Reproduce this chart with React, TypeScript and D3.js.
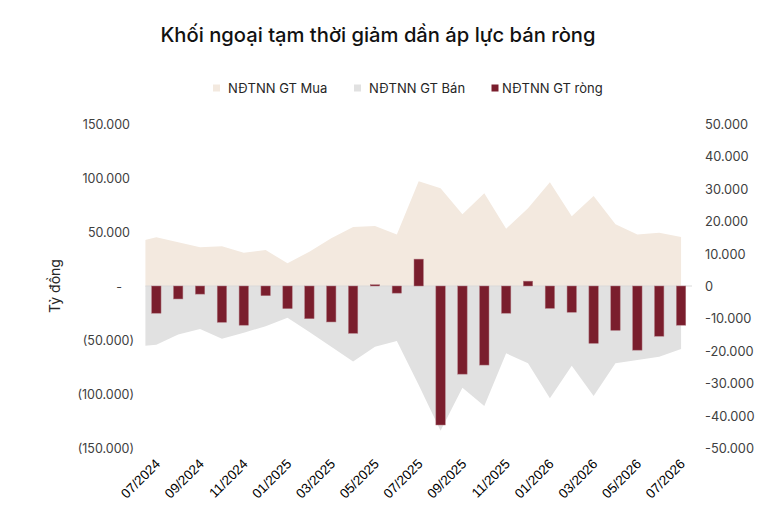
import React from 'react';
import * as d3 from 'd3';

const months = [
  '07/2024','08/2024','09/2024','10/2024','11/2024','12/2024',
  '01/2025','02/2025','03/2025','04/2025','05/2025','06/2025',
  '07/2025','08/2025','09/2025','10/2025','11/2025','12/2025',
  '01/2026','02/2026','03/2026','04/2026','05/2026','06/2026','07/2026',
];
// value for the month before the first category (drawn clipped at the plot edge)
const muaPrev = 40300;
const banPrev = -56300;
const mua = [45100,40400,35800,36700,30900,33300,21000,31800,44100,54600,55600,47800,96900,90400,66400,85800,53100,71900,96000,64500,83300,57100,47800,49400,45400];
const ban = [-54300,-44800,-39800,-48800,-43200,-37300,-29300,-42600,-56200,-69800,-56200,-50900,-91700,-134000,-94100,-111100,-62300,-71600,-104000,-73800,-101900,-71600,-68500,-65400,-58300];
const rong = [-8400,-4000,-2500,-11200,-12100,-3000,-7000,-10100,-11100,-14600,400,-2200,8300,-42900,-27200,-24400,-8400,1500,-6900,-8100,-17700,-13700,-19800,-15500,-12100];
const leftTicks = [150000,100000,50000,0,-50000,-100000,-150000];
const rightTicks = [50000,40000,30000,20000,10000,0,-10000,-20000,-30000,-40000,-50000];
const seriesNames = ['NĐTNN GT Mua','NĐTNN GT Bán','NĐTNN GT ròng'];
const title = 'Khối ngoại tạm thời giảm dần áp lực bán ròng';
const yTitle = 'Tỷ đồng';

const C_MUA = '#F3E9DF';
const C_BAN = '#E1E1E1';
const C_RONG = '#7A1E2D';
const FONT = 'Inter, "Noto Sans", sans-serif';
const FONT_X = '"Liberation Sans", Arial, sans-serif';

const vn = d3.formatLocale({ decimal: ',', thousands: '.', grouping: [3], currency: ['', ''] });
const fmt = vn.format(',.0f');
const fmtLeft = (v: number) => (v === 0 ? '-' : v < 0 ? `(${fmt(-v)})` : fmt(v));
const fmtRight = (v: number) => (v === 0 ? '0' : v < 0 ? `-${fmt(-v)}` : fmt(v));

export default function App() {
  const W = 775, H = 521;
  const plotL = 145.4, plotR = 692, plotT = 124, plotB = 448;

  const x = d3.scaleBand<number>().domain(d3.range(months.length)).range([plotL, plotR]).paddingInner(0.57).paddingOuter(0.285);
  const step = (plotR - plotL) / months.length;
  const cx = (i: number) => plotL + (i + 0.5) * step;
  const yL = d3.scaleLinear().domain([-150000, 150000]).range([plotB, plotT]);
  const yR = d3.scaleLinear().domain([-50000, 50000]).range([plotB, plotT]);

  const muaPts = [muaPrev, ...mua].map((v, k) => ({ i: k - 1, v }));
  const banPts = [banPrev, ...ban].map((v, k) => ({ i: k - 1, v }));
  const areaGen = d3.area<{ i: number; v: number }>().x((d) => cx(d.i)).y0(yL(0)).y1((d) => yL(d.v));

  const legendItems = [
    { sx: 213, tx: 228, color: C_MUA, name: seriesNames[0] },
    { sx: 354, tx: 369, color: C_BAN, name: seriesNames[1] },
    { sx: 491.5, tx: 502, color: C_RONG, name: seriesNames[2] },
  ];

  return (
    <svg width={W} height={H} style={{ position: 'absolute', left: 0, top: 0, background: '#fff' }} fontFamily={FONT}>
      <defs>
        <clipPath id="plotClip">
          <rect x={plotL} y={0} width={plotR - plotL} height={H} />
        </clipPath>
      </defs>
      <text x={378} y={42} textAnchor="middle" fontSize={20.2} fontWeight={500} fill="#111">{title}</text>

      {legendItems.map((l) => (
        <g key={l.name}>
          <rect x={l.sx} y={84.5} width={7} height={7} fill={l.color} />
          <text x={l.tx} y={92.5} fontSize={13} fill="#262626">{l.name}</text>
        </g>
      ))}

      <g clipPath="url(#plotClip)">
        <path d={areaGen(muaPts) || ''} fill={C_MUA} />
        <path d={areaGen(banPts) || ''} fill={C_BAN} />
      </g>
      <line x1={plotL} x2={plotR} y1={yL(0)} y2={yL(0)} stroke="#D9D9D9" strokeWidth={1} />

      {rong.map((v, i) => (
        <rect key={i} x={x(i)} width={x.bandwidth()} y={Math.min(yR(v), yR(0))} height={Math.abs(yR(v) - yR(0))}
          fill={C_RONG} stroke="#B07A82" strokeWidth={0.5} />
      ))}

      {leftTicks.map((t) => (
        <text key={t} x={t < 0 ? 134 : t === 0 ? 122 : 130} y={yL(t) + 1.5} textAnchor="end" dominantBaseline="middle" fontSize={12.5} fill="#404040">{fmtLeft(t)}</text>
      ))}
      {rightTicks.map((t) => (
        <text key={t} x={705} y={yR(t) + 1.5} textAnchor="start" dominantBaseline="middle" fontSize={12.8} fill="#404040">{fmtRight(t)}</text>
      ))}
      <text transform={`translate(60,286) rotate(-90)`} textAnchor="middle" fontSize={14} fill="#262626">{yTitle}</text>

      {months.map((m, i) => i % 2 === 0 ? (
        <text key={m} transform={`translate(${cx(i) - 2},${458}) rotate(-45)`} textAnchor="end" dominantBaseline="hanging" fontFamily={FONT_X} fontSize={13.5} fill="#000">{m}</text>
      ) : null)}
    </svg>
  );
}
